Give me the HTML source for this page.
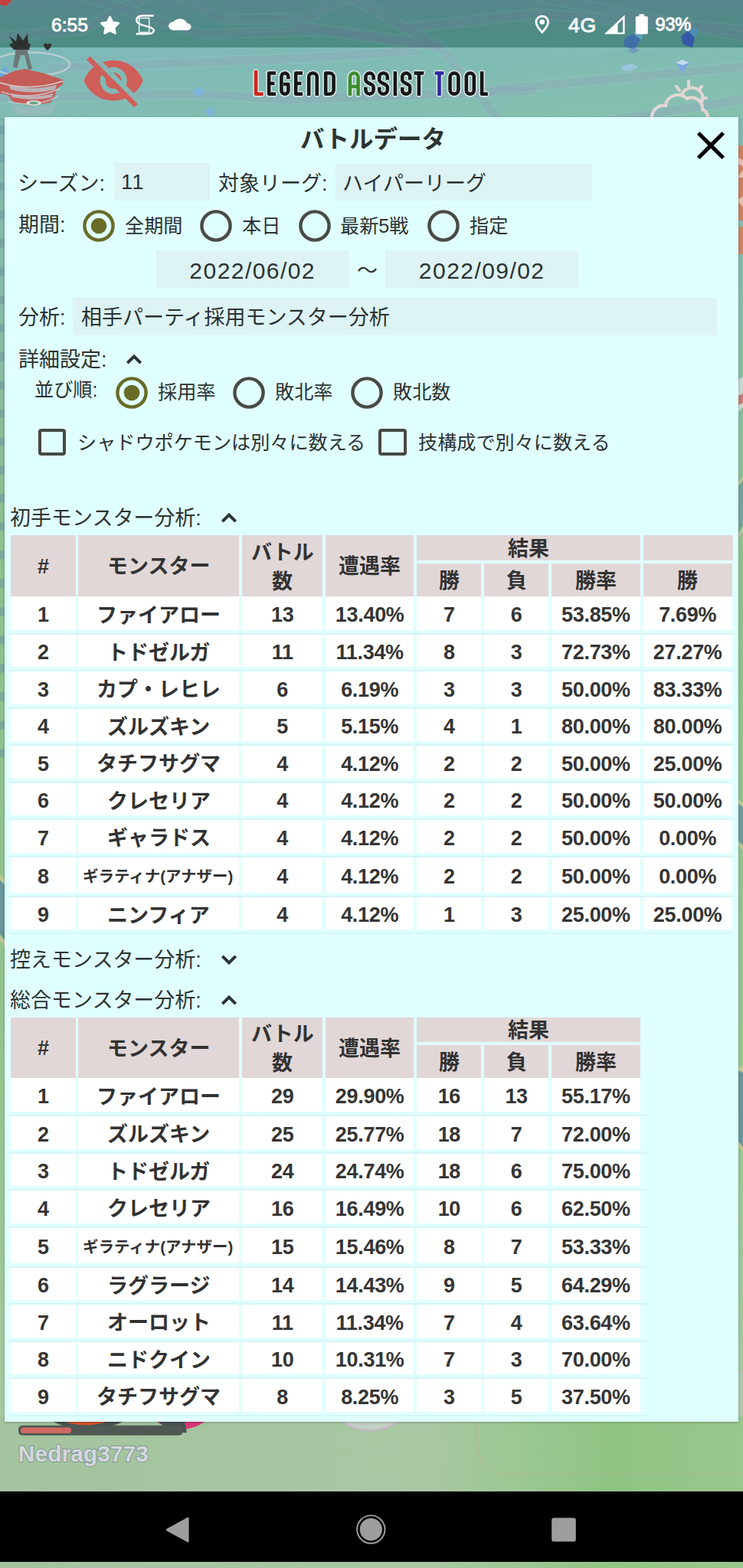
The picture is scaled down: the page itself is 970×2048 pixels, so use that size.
<!DOCTYPE html>
<html lang="ja"><head><meta charset="utf-8"><title>Legend Assist Tool - バトルデータ</title>
<style>
html,body{margin:0;padding:0}
body{width:970px;height:2048px;overflow:hidden;position:relative;font-family:"Liberation Sans",sans-serif;
 background:linear-gradient(180deg,#7fb7b0 0px,#7fb7b0 150px,#86bba4 420px,#8cc08c 700px,#93c48c 1400px,#a6c99f 1860px,#a9cba3 2048px);}
.abs,.jp,.panel,.statusbar,.mapoverlay,.nav,.inp,.th,.td,.ln,.tbl,.n{position:absolute}
.statusbar{left:0;top:0;width:970px;height:62px;background:#4f8d89}
.mapoverlay{left:0;top:62px;width:970px;height:91px;background:#80b9b3}
.panel{left:6px;top:153.3px;width:958px;height:1703.5px;background:#e0ffff;box-shadow:0 1px 3px rgba(0,0,0,.25)}
.inp{background:#ddf3f4}
.cb{box-sizing:border-box;border:4px solid #474943;border-radius:4px}
.tbl{overflow:hidden}
.th{background:#e1d7d7}
.td{background:#fff}
.ln{background:#d6f5f6}
.n{transform:translate(-50%,-50%);white-space:nowrap;color:#2b3232;line-height:1}
.bold{font-weight:bold;letter-spacing:-0.3px;color:#353535}
.reg{font-weight:normal}
.sb{position:absolute;transform:translateY(-50%);color:#fff;font-weight:normal;-webkit-text-stroke:0.9px #fff;line-height:1;white-space:nowrap}
.nm{position:absolute;font-weight:bold;font-size:30px;line-height:1.1;color:#d3d9dc;-webkit-text-stroke:2px #84969a;paint-order:stroke fill;white-space:nowrap}
.nav{left:0;top:1947.6px;width:970px;height:92.8px;background:#000}
svg{display:block;overflow:visible}
.jp text{font-family:"Liberation Sans","Noto Sans CJK JP",sans-serif}
</style></head>
<body>
<svg class="abs" style="left:0;top:0" width="970" height="154" viewBox="0 0 970 154"><defs><linearGradient id="sbg" x1="0" y1="0" x2="0" y2="1"><stop offset="0" stop-color="#57878c"/><stop offset="1" stop-color="#4b8d83"/></linearGradient><linearGradient id="lbg" x1="0" y1="0" x2="1" y2="1"><stop offset="0" stop-color="#7db8ba"/><stop offset="1" stop-color="#85c0ad"/></linearGradient><clipPath id="csb"><rect x="0" y="0" width="970" height="62"/></clipPath><clipPath id="clb"><rect x="0" y="62" width="970" height="92"/></clipPath></defs><rect x="0" y="0" width="970" height="62" fill="url(#sbg)"/><rect x="0" y="62" width="970" height="92" fill="url(#lbg)"/><g clip-path="url(#csb)" fill="none" stroke-linecap="butt"><path d="M111 -5 264 45 420 40 575 62 654 160" stroke="#5f9a93" stroke-width="15" stroke-opacity="0.45"/><path d="M231 -5 289 25 400 24 458 -5" stroke="#5f9a93" stroke-width="15" stroke-opacity="0.45"/><path d="M456 -5 575 62" stroke="#5f9a93" stroke-width="15" stroke-opacity="0.45"/><path d="M380 33 565 58" stroke="#5f9a93" stroke-width="15" stroke-opacity="0.45"/><path d="M525 37 700 18 980 40" stroke="#5f9a93" stroke-width="15" stroke-opacity="0.45"/><path d="M-5 49 107 39 190 -5" stroke="#5f9a93" stroke-width="15" stroke-opacity="0.45"/><path d="M62 89 400 76 545 66" stroke="#5f9a93" stroke-width="15" stroke-opacity="0.45"/><path d="M640 118 980 86" stroke="#5f9a93" stroke-width="15" stroke-opacity="0.45"/><path d="M700 -5 980 50" stroke="#5f9a93" stroke-width="15" stroke-opacity="0.45"/><path d="M-5 128 250 122 380 130 700 118" stroke="#5f9a93" stroke-width="15" stroke-opacity="0.45"/><path d="M780 160 980 128" stroke="#5f9a93" stroke-width="15" stroke-opacity="0.45"/><path d="M111 -5 264 45 420 40 575 62 654 160" stroke="#5b7f8e" stroke-width="11" stroke-opacity="0.55"/><path d="M231 -5 289 25 400 24 458 -5" stroke="#5b7f8e" stroke-width="11" stroke-opacity="0.55"/><path d="M456 -5 575 62" stroke="#5b7f8e" stroke-width="11" stroke-opacity="0.55"/><path d="M380 33 565 58" stroke="#5b7f8e" stroke-width="11" stroke-opacity="0.55"/><path d="M525 37 700 18 980 40" stroke="#5b7f8e" stroke-width="11" stroke-opacity="0.55"/><path d="M-5 49 107 39 190 -5" stroke="#5b7f8e" stroke-width="11" stroke-opacity="0.55"/><path d="M62 89 400 76 545 66" stroke="#5b7f8e" stroke-width="11" stroke-opacity="0.55"/><path d="M640 118 980 86" stroke="#5b7f8e" stroke-width="11" stroke-opacity="0.55"/><path d="M700 -5 980 50" stroke="#5b7f8e" stroke-width="11" stroke-opacity="0.55"/><path d="M-5 128 250 122 380 130 700 118" stroke="#5b7f8e" stroke-width="11" stroke-opacity="0.55"/><path d="M780 160 980 128" stroke="#5b7f8e" stroke-width="11" stroke-opacity="0.55"/></g><g clip-path="url(#clb)" fill="none" stroke-linecap="butt"><path d="M111 -5 264 45 420 40 575 62 654 160" stroke="#92c6c0" stroke-width="15" stroke-opacity="0.34"/><path d="M231 -5 289 25 400 24 458 -5" stroke="#92c6c0" stroke-width="15" stroke-opacity="0.34"/><path d="M456 -5 575 62" stroke="#92c6c0" stroke-width="15" stroke-opacity="0.34"/><path d="M380 33 565 58" stroke="#92c6c0" stroke-width="15" stroke-opacity="0.34"/><path d="M525 37 700 18 980 40" stroke="#92c6c0" stroke-width="15" stroke-opacity="0.34"/><path d="M-5 49 107 39 190 -5" stroke="#92c6c0" stroke-width="15" stroke-opacity="0.34"/><path d="M62 89 400 76 545 66" stroke="#92c6c0" stroke-width="15" stroke-opacity="0.34"/><path d="M640 118 980 86" stroke="#92c6c0" stroke-width="15" stroke-opacity="0.34"/><path d="M700 -5 980 50" stroke="#92c6c0" stroke-width="15" stroke-opacity="0.34"/><path d="M-5 128 250 122 380 130 700 118" stroke="#92c6c0" stroke-width="15" stroke-opacity="0.34"/><path d="M780 160 980 128" stroke="#92c6c0" stroke-width="15" stroke-opacity="0.34"/><path d="M111 -5 264 45 420 40 575 62 654 160" stroke="#8aa8b6" stroke-width="11" stroke-opacity="0.5"/><path d="M231 -5 289 25 400 24 458 -5" stroke="#8aa8b6" stroke-width="11" stroke-opacity="0.5"/><path d="M456 -5 575 62" stroke="#8aa8b6" stroke-width="11" stroke-opacity="0.5"/><path d="M380 33 565 58" stroke="#8aa8b6" stroke-width="11" stroke-opacity="0.5"/><path d="M525 37 700 18 980 40" stroke="#8aa8b6" stroke-width="11" stroke-opacity="0.5"/><path d="M-5 49 107 39 190 -5" stroke="#8aa8b6" stroke-width="11" stroke-opacity="0.5"/><path d="M62 89 400 76 545 66" stroke="#8aa8b6" stroke-width="11" stroke-opacity="0.5"/><path d="M640 118 980 86" stroke="#8aa8b6" stroke-width="11" stroke-opacity="0.5"/><path d="M700 -5 980 50" stroke="#8aa8b6" stroke-width="11" stroke-opacity="0.5"/><path d="M-5 128 250 122 380 130 700 118" stroke="#8aa8b6" stroke-width="11" stroke-opacity="0.5"/><path d="M780 160 980 128" stroke="#8aa8b6" stroke-width="11" stroke-opacity="0.5"/></g><path d="M0 0h16l-8 8-8-2z" fill="#c8403c"/><g><path d="M815 51l12-7 10 8-9 12-13-3z" fill="#3f6fa8"/><path d="M827 44l10 8 5-10-8-6z" fill="#5aa0b8"/><path d="M819 66l8 4 8-5-8-3z" fill="#6a8fc8" opacity=".7"/><path d="M889 48l9-8 9 9-3 13-12-4z" fill="#3559a8"/><path d="M898 40l9 9 5-9-7-5z" fill="#4f8fb5"/><path d="M810 86l16-3 8 5-12 5-9-1z" fill="#9cc4de" opacity=".9"/><path d="M882 82l9-4 9 4-6 9-4 4z" fill="#7fa6dc"/><path d="M882 82l9-4 9 4-9 3z" fill="#c4dcec"/><path d="M252 120l7-8 8 6-6 10z" fill="#7db4dc"/><path d="M268 146l6-7 7 6-5 8z" fill="#7db4dc"/><path d="M0 92l8-6 4 10-12 8z" fill="#6aa8d8"/></g><g fill="none" stroke="#ead9d6" stroke-width="4.2" stroke-linecap="round" stroke-linejoin="round" opacity=".92"><path d="M852 160c-4-14 6-24 17-22 1-13 18-19 28-9 10-5 21 3 20 14 8 3 9 13 3 18"/><path d="M890 124c4-12 22-13 27 0 1 5 0 8-2 11"/><path d="M899 106v6M883 113l4 5M916 113l-4 5M922 128h-5"/></g><g opacity=".88"><ellipse cx="40" cy="84" rx="51" ry="15.5" fill="none" stroke="#d2d6d6" stroke-width="2.4" opacity=".8"/><path d="M0 101l18-8 14-3 26 6 24 8v6l-8 6-2 8-6 10-26 4-22-4-8-10-10-2z" fill="#cf514b"/><path d="M12 112q30 7 62-1l-2 6q-30 7-58 0z" fill="#bfc4cc" opacity=".85"/><path d="M14 123q28 6 56-1l-2 5q-26 6-52 0z" fill="#c4c8d0" opacity=".8"/><path d="M0 108q40 12 82-2" fill="none" stroke="#dcdfe2" stroke-width="1.800" opacity=".9"/><path d="M2 120q38 12 76-4" fill="none" stroke="#d4d8dc" stroke-width="1.800" opacity=".8"/><path d="M10 132q34 10 66-6" fill="none" stroke="#ccd2d6" stroke-width="1.800" opacity=".8"/><path d="M14 136l4 12q24 6 50 0l6-14q-30 10-60 2z" fill="#a9b9bf" opacity=".55"/><ellipse cx="44" cy="134.500" rx="10" ry="3.600" fill="#e4e8e4" opacity=".9"/><ellipse cx="44" cy="134.500" rx="5.500" ry="1.800" fill="#5f9f78"/><path d="M21 63l-4 24 5 2 5-17 5 0 5 19 5-1-7-27z" fill="#6a6f6c"/><path d="M12 47l9 7 2-11 7 10 6-9 1 13 3 0-2 8-20 0-6-7 5-2z" fill="#2a2424"/><path d="M57 58q2-3 5 0 3-3 5 0 0 4-5 8-5-4-5-8z" fill="#2c2626"/></g></svg>
<svg class="abs" style="left:0;top:150px" width="970" height="1710" viewBox="0 150 970 1710"><rect x="958" y="190" width="12" height="98" fill="#c9805c"/><rect x="958" y="296" width="12" height="36" fill="#cc8560"/><path d="M962 205l8 4v8l-8-3zM962 232l8-10v10zM962 262l8-6v14z" fill="#e6cfc4" opacity=".8"/><path d="M958 500l12-8v40l-12 12z" fill="#dfe3e6" opacity=".7"/><path d="M958 520l12-6v12l-12 6z" fill="#c8504a" opacity=".7"/><path d="M958 640l12-14v60l-12 18z" fill="#6f9aa0" opacity=".8"/><path d="M958 636l12-14v6l-12 14zM958 706l12-18v6l-12 18z" fill="#c9c796" opacity=".8"/><path d="M958 1045l12 8v52l-12-10z" fill="#6a939c" opacity=".85"/><path d="M958 1040l12 8v6l-12-8zM958 1094l12 10v6l-12-10z" fill="#c9c796" opacity=".8"/><path d="M958 1395l12 6v98l-12-14z" fill="#64909a" opacity=".9"/><path d="M958 1388l12 6v7l-12-6zM958 1484l12 14v7l-12-14z" fill="#c9c796" opacity=".85"/><path d="M0 165l12-3v11l-12 3zM0 202l12-3v11l-12 3zM0 239l12-3v11l-12 3zM0 276l12-3v11l-12 3zM0 313l12-3v11l-12 3zM0 350l12-3v11l-12 3zM0 387l12-3v11l-12 3zM0 424l12-3v11l-12 3zM0 461l12-3v11l-12 3zM0 498l12-3v11l-12 3zM0 535l12-3v11l-12 3zM0 572l12-3v11l-12 3zM0 609l12-3v11l-12 3zM0 646l12-3v11l-12 3zM0 683l12-3v11l-12 3zM0 720l12-3v11l-12 3zM0 757l12-3v11l-12 3zM0 794l12-3v11l-12 3zM0 831l12-3v11l-12 3zM0 868l12-3v11l-12 3zM0 905l12-3v11l-12 3zM0 942l12-3v11l-12 3zM0 979l12-3v11l-12 3z" fill="#6f9aa4" opacity=".6"/><path d="M0 1150l12 12v72l-12-14z" fill="#64909a" opacity=".9"/><path d="M0 1142l12 12v7l-12-12zM0 1222l12 14v7l-12-14z" fill="#c9c796" opacity=".85"/><rect x="958" y="1790" width="12" height="70" fill="#b9c4b4" opacity=".6"/></svg>
<span class="sb" style="left:67px;top:33.2px;font-size:24.6px">6:55</span><span class="sb" style="left:742px;top:33.2px;font-size:26.6px;letter-spacing:0.6px">4G</span><span class="sb" style="left:855.5px;top:33.2px;font-size:23.6px;letter-spacing:-0.2px">93%</span><svg class="abs" style="left:120px;top:10px" width="800" height="44" viewBox="120 10 800 44" fill="#fff"><path d="M143.5 22.0L147.0 29.1L154.8 30.2L149.1 35.7L150.5 43.5L143.5 39.8L136.5 43.5L137.9 35.7L132.2 30.2L140.0 29.1z" stroke="#fff" stroke-width="2.6" stroke-linejoin="round"/><g fill="none" stroke="#fff"><rect x="181.6" y="23.6" width="13.2" height="18.6" stroke-width="1.3"/><path d="M200.6 20.6H187Q178.2 20.6 178.2 26.6 178.2 31.4 189 33.6 200.8 36 200.8 40 200.8 44.2 192 44.2H177.6" stroke-width="2.5"/></g><path d="M243.900 31.200c-.840-4.220-4.550-7.400-9-7.400-3.540 0-6.610 2-8.140 4.940-3.680.390-6.540 3.510-6.540 7.290 0 4.050 3.290 7.340 7.340 7.340h15.910c3.380 0 6.120-2.740 6.120-6.120 0-3.230-2.510-5.850-5.690-6.050z" transform="translate(0,6.2) scale(1,.77)"/><path d="M707.8 19.8c-5.1 0-9.2 4-9.2 9 0 6.7 9.2 15.3 9.2 15.3s9.2-8.6 9.2-15.3c0-5-4.1-9-9.2-9zm0 2.8c3.5 0 6.4 2.8 6.4 6.2 0 3.9-4.2 8.9-6.4 11.3-2.2-2.4-6.4-7.400-6.4-11.3 0-3.4 2.9-6.2 6.4-6.2zm0 2.900a3.3 3.3 0 100 6.600 3.300 3.300 0 000-6.600z" fill-rule="evenodd"/><path d="M815.600 19.400v25.200h-26.700zM806.500 31.500v11h6.700v-17.500z" fill-rule="evenodd"/><path d="M834.500 18.600h6.600v2.700h3.200q1.500 0 1.500 1.500v20.400q0 1.400-1.500 1.400h-13q-1.500 0-1.500-1.400v-20.400q0-1.500 1.500-1.500h3.200z"/></svg>
<svg class="abs" style="left:106.3px;top:62.6px" width="84.3" height="84.3" viewBox="0 0 24 24" fill="#cf5f58"><path d="M12 7c2.76 0 5 2.24 5 5 0 .65-.13 1.26-.36 1.83l2.92 2.92c1.510-1.260 2.700-2.890 3.430-4.750-1.730-4.390-6-7.500-11-7.500-1.400 0-2.740.250-3.980.700l2.160 2.160C10.740 7.130 11.350 7 12 7zM2 4.270l2.280 2.280.460.460C3.080 8.300 1.780 10.020 1 12c1.730 4.390 6 7.500 11 7.500 1.550 0 3.030-.300 4.380-.840l.420.420L19.730 22 21 20.730 3.270 3 2 4.270zM7.530 9.800l1.550 1.550c-.050.210-.080.430-.080.650 0 1.660 1.340 3 3 3 .220 0 .440-.030.650-.080l1.550 1.550c-.670.330-1.410.530-2.200.530-2.760 0-5-2.240-5-5 0-.790.200-1.530.530-2.200zm4.310-.780l3.150 3.150.020-.160c0-1.660-1.340-3-3-3l-.170.010z"/></svg>
<svg class="abs" role="img" aria-label="LEGEND ASSIST TOOL" style="left:320px;top:80px" width="330" height="56" viewBox="320 80 330 56" fill="none" stroke-linecap="square" stroke-linejoin="round"><g stroke="#e8eeee" stroke-opacity=".8" stroke-width="7.9" stroke-linecap="round"><path d="M334.1 94.2V122.8H341.4"/><path d="M357.8 95.5H351.1V122.8H357.8M351.1 109.1H356.2"/><path d="M376.4 101.0V100.0A4.5 4.5 0 0 0 367.4 100.0V118.2A4.5 4.5 0 0 0 376.4 118.2V110.1H372.4"/><path d="M392.8 95.5H386.2V122.8H392.8M386.2 109.1H391.2"/><path d="M403.2 122.8V100.7A5.2 5.2 0 0 1 413.8 100.7V122.8"/><path d="M425.2 95.5H430.4A5.2 5.2 0 0 1 435.6 100.6V117.6A5.2 5.2 0 0 1 430.4 122.8H425.2Z"/><path d="M456.9 122.8V100.8A5.3 5.3 0 0 1 467.6 100.8V122.8M456.9 113.1H467.6"/><path d="M487.6 102.1V100.6A5.1 5.1 0 0 0 477.4 100.6V104.5C477.4 109.1 487.6 109.1 487.6 113.7V117.6A5.1 5.1 0 0 1 477.4 117.6V116.1"/><path d="M505.8 102.2V100.7A5.2 5.2 0 0 0 495.2 100.7V104.4C495.2 109.1 505.8 109.1 505.8 113.8V117.5A5.2 5.2 0 0 1 495.2 117.5V116.0"/><path d="M515.9 95.5V122.8"/><path d="M535.2 102.0V100.5A5.0 5.0 0 0 0 525.2 100.5V104.6C525.2 109.1 535.2 109.1 535.2 113.6V117.8A5.0 5.0 0 0 1 525.2 117.8V116.2"/><path d="M542.8 95.5H551.0M546.9 95.5V122.8"/><path d="M569.9 95.5H577.2M573.5 95.5V122.8"/><path d="M587.5 100.9A5.4 5.4 0 0 1 598.4 100.9V117.3A5.4 5.4 0 0 1 587.5 117.3Z"/><path d="M608.8 100.5A5.0 5.0 0 0 1 618.8 100.5V117.8A5.0 5.0 0 0 1 608.8 117.8Z"/><path d="M629.1 95.5V122.8H634.6"/></g><g stroke-width="4.5"><path d="M334.1 94.2V122.8H341.4" stroke="#c8281e"/><path d="M357.8 95.5H351.1V122.8H357.8M351.1 109.1H356.2" stroke="#161616"/><path d="M376.4 101.0V100.0A4.5 4.5 0 0 0 367.4 100.0V118.2A4.5 4.5 0 0 0 376.4 118.2V110.1H372.4" stroke="#161616"/><path d="M392.8 95.5H386.2V122.8H392.8M386.2 109.1H391.2" stroke="#161616"/><path d="M403.2 122.8V100.7A5.2 5.2 0 0 1 413.8 100.7V122.8" stroke="#161616"/><path d="M425.2 95.5H430.4A5.2 5.2 0 0 1 435.6 100.6V117.6A5.2 5.2 0 0 1 430.4 122.8H425.2Z" stroke="#161616"/><path d="M456.9 122.8V100.8A5.3 5.3 0 0 1 467.6 100.8V122.8M456.9 113.1H467.6" stroke="#3c8c2c"/><path d="M487.6 102.1V100.6A5.1 5.1 0 0 0 477.4 100.6V104.5C477.4 109.1 487.6 109.1 487.6 113.7V117.6A5.1 5.1 0 0 1 477.4 117.6V116.1" stroke="#161616"/><path d="M505.8 102.2V100.7A5.2 5.2 0 0 0 495.2 100.7V104.4C495.2 109.1 505.8 109.1 505.8 113.8V117.5A5.2 5.2 0 0 1 495.2 117.5V116.0" stroke="#161616"/><path d="M515.9 95.5V122.8" stroke="#161616"/><path d="M535.2 102.0V100.5A5.0 5.0 0 0 0 525.2 100.5V104.6C525.2 109.1 535.2 109.1 535.2 113.6V117.8A5.0 5.0 0 0 1 525.2 117.8V116.2" stroke="#161616"/><path d="M542.8 95.5H551.0M546.9 95.5V122.8" stroke="#161616"/><path d="M569.9 95.5H577.2M573.5 95.5V122.8" stroke="#2c2a9c"/><path d="M587.5 100.9A5.4 5.4 0 0 1 598.4 100.9V117.3A5.4 5.4 0 0 1 587.5 117.3Z" stroke="#161616"/><path d="M608.8 100.5A5.0 5.0 0 0 1 618.8 100.5V117.8A5.0 5.0 0 0 1 608.8 117.8Z" stroke="#161616"/><path d="M629.1 95.5V122.8H634.6" stroke="#161616"/></g></svg>
<svg class="abs" style="left:0;top:1850px" width="970" height="198" viewBox="0 1850 970 198"><defs><linearGradient id="bbg" x1="0" y1="0" x2="1" y2="0"><stop offset="0" stop-color="#a3c49e"/><stop offset=".58" stop-color="#a8c8a2"/><stop offset=".82" stop-color="#90c584"/><stop offset="1" stop-color="#99c78d"/></linearGradient></defs><rect x="0" y="1850" width="970" height="198" fill="url(#bbg)"/><ellipse cx="483.5" cy="1832" rx="50" ry="36.500" fill="#c6d0c8" stroke="#c3b6c4" stroke-width="2.500" opacity=".9"/><ellipse cx="115" cy="1840" rx="58" ry="27" fill="#4a5254"/><ellipse cx="112" cy="1840" rx="44" ry="21.500" fill="#d9532c"/><circle cx="236" cy="1814" r="53" fill="#d83a78"/><path d="M202 1850q12 20 42 21.500l-5-24z" fill="#4a5254"/><rect x="622" y="1790" width="420" height="135" rx="40" fill="none" stroke="#c4a78e" stroke-width="1.6" opacity=".4"/><rect x="24" y="1861.800" width="214.800" height="13" rx="5" fill="#4f5853"/><rect x="27" y="1864.500" width="66" height="7.600" rx="3.500" fill="#cf6a62"/></svg><span class="nm" style="left:23.800px;top:1881.600px">Nedrag3773</span>
<div class="panel"></div>
<svg class="jp" role="img" aria-label="バトルデータ" style="left:391.66px;top:164.65px;" width="189.00" height="31.50" viewBox="0 -880 6000 1000" fill="#2b3232"><text x="0" y="0" font-size="1000" font-weight="bold">バトルデータ</text></svg>
<svg class="abs" style="left:897px;top:158.6px" width="62" height="62" viewBox="0 0 24 24"><path d="M19 6.41 17.59 5 12 10.59 6.41 5 5 6.41 10.59 12 5 17.59 6.41 19 12 13.41 17.59 19 19 17.59 13.41 12z" fill="#000"/></svg>
<svg class="jp" role="img" aria-label="シーズン:" style="left:23.04px;top:224.50px;" width="115.51" height="27.00" viewBox="0 -880 4278 1000" fill="#2b3232"><text x="0" y="0" font-size="1000">シーズン:</text></svg>
<div class="inp" style="left:148.60px;top:213.00px;width:125.00px;height:49.20px;"></div>
<span class="n reg" style="left:173.30px;top:238.40px;font-size:27.50px;letter-spacing:1px">11</span>
<svg class="jp" role="img" aria-label="対象リーグ:" style="left:285.14px;top:224.50px;" width="142.51" height="27.00" viewBox="0 -880 5278 1000" fill="#2b3232"><text x="0" y="0" font-size="1000">対象リーグ:</text></svg>
<div class="inp" style="left:437.50px;top:213.60px;width:335.00px;height:48.60px;"></div>
<svg class="jp" role="img" aria-label="ハイパーリーグ" style="left:447.48px;top:224.50px;" width="189.00" height="27.00" viewBox="0 -880 7000 1000" fill="#2b3232"><text x="0" y="0" font-size="1000">ハイパーリーグ</text></svg>
<svg class="jp" role="img" aria-label="期間:" style="left:23.87px;top:278.50px;" width="61.51" height="27.00" viewBox="0 -880 2278 1000" fill="#2b3232"><text x="0" y="0" font-size="1000">期間:</text></svg>
<svg class="abs" style="left:106.40px;top:271.90px" width="46" height="46" viewBox="-23 -23 46 46"><circle r="18.6" fill="none" stroke="#696c27" stroke-width="4.4"/><circle r="10.3" fill="#696c27"/></svg>
<svg class="jp" role="img" aria-label="全期間" style="left:162.77px;top:281.93px;" width="75.45" height="25.15" viewBox="0 -880 3000 1000" fill="#2b3232"><text x="0" y="0" font-size="1000">全期間</text></svg>
<svg class="abs" style="left:259.10px;top:271.90px" width="46" height="46" viewBox="-23 -23 46 46"><circle r="18.6" fill="none" stroke="#484b44" stroke-width="4.4"/></svg>
<svg class="jp" role="img" aria-label="本日" style="left:316.22px;top:281.93px;" width="50.30" height="25.15" viewBox="0 -880 2000 1000" fill="#2b3232"><text x="0" y="0" font-size="1000">本日</text></svg>
<svg class="abs" style="left:387.50px;top:271.90px" width="46" height="46" viewBox="-23 -23 46 46"><circle r="18.6" fill="none" stroke="#484b44" stroke-width="4.4"/></svg>
<svg class="jp" role="img" aria-label="最新5戦" style="left:443.77px;top:281.93px;" width="89.41" height="25.15" viewBox="0 -880 3555 1000" fill="#2b3232"><text x="0" y="0" font-size="1000">最新5戦</text></svg>
<svg class="abs" style="left:556.00px;top:271.90px" width="46" height="46" viewBox="-23 -23 46 46"><circle r="18.6" fill="none" stroke="#484b44" stroke-width="4.4"/></svg>
<svg class="jp" role="img" aria-label="指定" style="left:612.72px;top:281.93px;" width="50.30" height="25.15" viewBox="0 -880 2000 1000" fill="#2b3232"><text x="0" y="0" font-size="1000">指定</text></svg>
<div class="inp" style="left:204.00px;top:327.00px;width:252.00px;height:49.30px;"></div>
<span class="n reg" style="left:329.70px;top:353.50px;font-size:30.00px;letter-spacing:1.45px">2022/06/02</span>
<svg class="jp" role="img" aria-label="～" style="left:466.00px;top:338.50px;" width="27.00" height="27.00" viewBox="0 -880 1000 1000" fill="#2b3232"><text x="0" y="0" font-size="1000">～</text></svg>
<div class="inp" style="left:503.40px;top:327.00px;width:251.60px;height:49.30px;"></div>
<span class="n reg" style="left:629.20px;top:353.50px;font-size:30.00px;letter-spacing:1.45px">2022/09/02</span>
<svg class="jp" role="img" aria-label="分析:" style="left:24.38px;top:399.50px;" width="61.51" height="27.00" viewBox="0 -880 2278 1000" fill="#2b3232"><text x="0" y="0" font-size="1000">分析:</text></svg>
<div class="inp" style="left:95.00px;top:388.60px;width:841.00px;height:49.40px;"></div>
<svg class="jp" role="img" aria-label="相手パーティ採用モンスター分析" style="left:106.22px;top:399.50px;" width="405.00" height="27.00" viewBox="0 -880 15000 1000" fill="#2b3232"><text x="0" y="0" font-size="1000">相手パーティ採用モンスター分析</text></svg>
<svg class="jp" role="img" aria-label="詳細設定:" style="left:23.97px;top:455.00px;" width="115.51" height="27.00" viewBox="0 -880 4278 1000" fill="#2b3232"><text x="0" y="0" font-size="1000">詳細設定:</text></svg>
<svg class="abs" style="left:158.50px;top:452.50px" width="32" height="32" viewBox="-16 -16 32 32"><polyline points="-8.7,5.1 0,-3.5 8.7,5.1" fill="none" stroke="#2b3232" stroke-width="3.9"/></svg>
<svg class="jp" role="img" aria-label="並び順:" style="left:44.64px;top:496.23px;" width="82.44" height="25.15" viewBox="0 -880 3278 1000" fill="#2b3232"><text x="0" y="0" font-size="1000">並び順:</text></svg>
<svg class="abs" style="left:148.50px;top:489.90px" width="46" height="46" viewBox="-23 -23 46 46"><circle r="18.6" fill="none" stroke="#696c27" stroke-width="4.4"/><circle r="10.3" fill="#696c27"/></svg>
<svg class="jp" role="img" aria-label="採用率" style="left:206.30px;top:499.43px;" width="75.45" height="25.15" viewBox="0 -880 3000 1000" fill="#2b3232"><text x="0" y="0" font-size="1000">採用率</text></svg>
<svg class="abs" style="left:302.00px;top:489.90px" width="46" height="46" viewBox="-23 -23 46 46"><circle r="18.6" fill="none" stroke="#484b44" stroke-width="4.4"/></svg>
<svg class="jp" role="img" aria-label="敗北率" style="left:359.17px;top:499.43px;" width="75.45" height="25.15" viewBox="0 -880 3000 1000" fill="#2b3232"><text x="0" y="0" font-size="1000">敗北率</text></svg>
<svg class="abs" style="left:455.60px;top:489.90px" width="46" height="46" viewBox="-23 -23 46 46"><circle r="18.6" fill="none" stroke="#484b44" stroke-width="4.4"/></svg>
<svg class="jp" role="img" aria-label="敗北数" style="left:512.77px;top:499.43px;" width="75.45" height="25.15" viewBox="0 -880 3000 1000" fill="#2b3232"><text x="0" y="0" font-size="1000">敗北数</text></svg>
<div class="abs cb" style="left:50.00px;top:560.30px;width:36.00px;height:34.30px"></div>
<svg class="jp" role="img" aria-label="シャドウポケモンは別々に数える" style="left:101.33px;top:564.92px;" width="377.25" height="25.15" viewBox="0 -880 15000 1000" fill="#2b3232"><text x="0" y="0" font-size="1000">シャドウポケモンは別々に数える</text></svg>
<div class="abs cb" style="left:493.70px;top:560.30px;width:37.20px;height:34.30px"></div>
<svg class="jp" role="img" aria-label="技構成で別々に数える" style="left:546.27px;top:564.92px;" width="251.50" height="25.15" viewBox="0 -880 10000 1000" fill="#2b3232"><text x="0" y="0" font-size="1000">技構成で別々に数える</text></svg>
<svg class="jp" role="img" aria-label="初手モンスター分析:" style="left:12.60px;top:661.50px;" width="250.51" height="27.00" viewBox="0 -880 9278 1000" fill="#2b3232"><text x="0" y="0" font-size="1000">初手モンスター分析:</text></svg>
<svg class="abs" style="left:282.50px;top:659.50px" width="32" height="32" viewBox="-16 -16 32 32"><polyline points="-8.7,5.1 0,-3.5 8.7,5.1" fill="none" stroke="#2b3232" stroke-width="3.9"/></svg>
<div class="tbl" style="left:0;top:699.00px;width:957.30px;height:560.00px"><div class="th" style="left:14.20px;top:0.00px;width:84.40px;height:79.70px;"></div><span class="n bold" style="left:56.40px;top:40.80px;font-size:27.00px;">#</span><div class="th" style="left:102.20px;top:0.00px;width:210.20px;height:79.70px;"></div><svg class="jp" role="img" aria-label="モンスター" style="left:139.80px;top:26.10px;" width="135.00" height="27.00" viewBox="0 -880 5000 1000" fill="#323232"><text x="0" y="0" font-size="1000" font-weight="bold">モンスター</text></svg><div class="th" style="left:316.40px;top:0.00px;width:104.50px;height:79.70px;"></div><svg class="jp" role="img" aria-label="バトル" style="left:328.15px;top:7.50px;" width="81.00" height="27.00" viewBox="0 -880 3000 1000" fill="#323232"><text x="0" y="0" font-size="1000" font-weight="bold">バトル</text></svg><svg class="jp" role="img" aria-label="数" style="left:355.15px;top:45.90px;" width="27.00" height="27.00" viewBox="0 -880 1000 1000" fill="#323232"><text x="0" y="0" font-size="1000" font-weight="bold">数</text></svg><div class="th" style="left:425.00px;top:0.00px;width:115.40px;height:79.70px;"></div><svg class="jp" role="img" aria-label="遭遇率" style="left:442.20px;top:26.10px;" width="81.00" height="27.00" viewBox="0 -880 3000 1000" fill="#323232"><text x="0" y="0" font-size="1000" font-weight="bold">遭遇率</text></svg><div class="th" style="left:544.30px;top:0.00px;width:291.30px;height:32.70px;"></div><svg class="jp" role="img" aria-label="結果" style="left:662.95px;top:2.80px;" width="54.00" height="27.00" viewBox="0 -880 2000 1000" fill="#323232"><text x="0" y="0" font-size="1000" font-weight="bold">結果</text></svg><div class="th" style="left:544.30px;top:36.70px;width:84.10px;height:43.00px;"></div><svg class="jp" role="img" aria-label="勝" style="left:572.85px;top:44.70px;" width="27.00" height="27.00" viewBox="0 -880 1000 1000" fill="#323232"><text x="0" y="0" font-size="1000" font-weight="bold">勝</text></svg><div class="th" style="left:632.20px;top:36.70px;width:83.80px;height:43.00px;"></div><svg class="jp" role="img" aria-label="負" style="left:660.60px;top:44.70px;" width="27.00" height="27.00" viewBox="0 -880 1000 1000" fill="#323232"><text x="0" y="0" font-size="1000" font-weight="bold">負</text></svg><div class="th" style="left:720.20px;top:36.70px;width:115.40px;height:43.00px;"></div><svg class="jp" role="img" aria-label="勝率" style="left:750.90px;top:44.70px;" width="54.00" height="27.00" viewBox="0 -880 2000 1000" fill="#323232"><text x="0" y="0" font-size="1000" font-weight="bold">勝率</text></svg><div class="th" style="left:839.80px;top:0.00px;width:155.80px;height:32.70px;"></div><div class="th" style="left:839.80px;top:36.70px;width:115.80px;height:43.00px;"></div><svg class="jp" role="img" aria-label="勝" style="left:884.20px;top:44.70px;" width="27.00" height="27.00" viewBox="0 -880 1000 1000" fill="#323232"><text x="0" y="0" font-size="1000" font-weight="bold">勝</text></svg><div class="td" style="left:14.20px;top:79.70px;width:84.40px;height:44.30px;"></div><div class="td" style="left:102.20px;top:79.70px;width:210.20px;height:44.30px;"></div><div class="td" style="left:316.40px;top:79.70px;width:104.50px;height:44.30px;"></div><div class="td" style="left:425.00px;top:79.70px;width:115.40px;height:44.30px;"></div><div class="td" style="left:544.30px;top:79.70px;width:84.10px;height:44.30px;"></div><div class="td" style="left:632.20px;top:79.70px;width:83.80px;height:44.30px;"></div><div class="td" style="left:720.20px;top:79.70px;width:115.40px;height:44.30px;"></div><div class="td" style="left:839.80px;top:79.70px;width:115.80px;height:44.30px;"></div><div class="ln" style="left:11.00px;top:127.50px;width:946.30px;height:2.00px;"></div><span class="n bold" style="left:56.40px;top:103.75px;font-size:27.00px;">1</span><svg class="jp" role="img" aria-label="ファイアロー" style="left:126.30px;top:89.65px;" width="162.00" height="27.00" viewBox="0 -880 6000 1000" fill="#323232"><text x="0" y="0" font-size="1000" font-weight="bold">ファイアロー</text></svg><span class="n bold" style="left:368.65px;top:103.75px;font-size:27.00px;">13</span><span class="n bold" style="left:482.70px;top:103.75px;font-size:27.00px;">13.40%</span><span class="n bold" style="left:586.35px;top:103.75px;font-size:27.00px;">7</span><span class="n bold" style="left:674.10px;top:103.75px;font-size:27.00px;">6</span><span class="n bold" style="left:777.90px;top:103.75px;font-size:27.00px;">53.85%</span><span class="n bold" style="left:897.70px;top:103.75px;font-size:27.00px;">7.69%</span><div class="td" style="left:14.20px;top:129.70px;width:84.40px;height:42.80px;"></div><div class="td" style="left:102.20px;top:129.70px;width:210.20px;height:42.80px;"></div><div class="td" style="left:316.40px;top:129.70px;width:104.50px;height:42.80px;"></div><div class="td" style="left:425.00px;top:129.70px;width:115.40px;height:42.80px;"></div><div class="td" style="left:544.30px;top:129.70px;width:84.10px;height:42.80px;"></div><div class="td" style="left:632.20px;top:129.70px;width:83.80px;height:42.80px;"></div><div class="td" style="left:720.20px;top:129.70px;width:115.40px;height:42.80px;"></div><div class="td" style="left:839.80px;top:129.70px;width:115.80px;height:42.80px;"></div><div class="ln" style="left:11.00px;top:176.00px;width:946.30px;height:2.00px;"></div><span class="n bold" style="left:56.40px;top:153.00px;font-size:27.00px;">2</span><svg class="jp" role="img" aria-label="トドゼルガ" style="left:139.80px;top:138.90px;" width="135.00" height="27.00" viewBox="0 -880 5000 1000" fill="#323232"><text x="0" y="0" font-size="1000" font-weight="bold">トドゼルガ</text></svg><span class="n bold" style="left:368.65px;top:153.00px;font-size:27.00px;">11</span><span class="n bold" style="left:482.70px;top:153.00px;font-size:27.00px;">11.34%</span><span class="n bold" style="left:586.35px;top:153.00px;font-size:27.00px;">8</span><span class="n bold" style="left:674.10px;top:153.00px;font-size:27.00px;">3</span><span class="n bold" style="left:777.90px;top:153.00px;font-size:27.00px;">72.73%</span><span class="n bold" style="left:897.70px;top:153.00px;font-size:27.00px;">27.27%</span><div class="td" style="left:14.20px;top:178.20px;width:84.40px;height:42.80px;"></div><div class="td" style="left:102.20px;top:178.20px;width:210.20px;height:42.80px;"></div><div class="td" style="left:316.40px;top:178.20px;width:104.50px;height:42.80px;"></div><div class="td" style="left:425.00px;top:178.20px;width:115.40px;height:42.80px;"></div><div class="td" style="left:544.30px;top:178.20px;width:84.10px;height:42.80px;"></div><div class="td" style="left:632.20px;top:178.20px;width:83.80px;height:42.80px;"></div><div class="td" style="left:720.20px;top:178.20px;width:115.40px;height:42.80px;"></div><div class="td" style="left:839.80px;top:178.20px;width:115.80px;height:42.80px;"></div><div class="ln" style="left:11.00px;top:224.50px;width:946.30px;height:2.00px;"></div><span class="n bold" style="left:56.40px;top:201.50px;font-size:27.00px;">3</span><svg class="jp" role="img" aria-label="カプ・レヒレ" style="left:126.30px;top:187.40px;" width="162.00" height="27.00" viewBox="0 -880 6000 1000" fill="#323232"><text x="0" y="0" font-size="1000" font-weight="bold">カプ・レヒレ</text></svg><span class="n bold" style="left:368.65px;top:201.50px;font-size:27.00px;">6</span><span class="n bold" style="left:482.70px;top:201.50px;font-size:27.00px;">6.19%</span><span class="n bold" style="left:586.35px;top:201.50px;font-size:27.00px;">3</span><span class="n bold" style="left:674.10px;top:201.50px;font-size:27.00px;">3</span><span class="n bold" style="left:777.90px;top:201.50px;font-size:27.00px;">50.00%</span><span class="n bold" style="left:897.70px;top:201.50px;font-size:27.00px;">83.33%</span><div class="td" style="left:14.20px;top:226.70px;width:84.40px;height:42.80px;"></div><div class="td" style="left:102.20px;top:226.70px;width:210.20px;height:42.80px;"></div><div class="td" style="left:316.40px;top:226.70px;width:104.50px;height:42.80px;"></div><div class="td" style="left:425.00px;top:226.70px;width:115.40px;height:42.80px;"></div><div class="td" style="left:544.30px;top:226.70px;width:84.10px;height:42.80px;"></div><div class="td" style="left:632.20px;top:226.70px;width:83.80px;height:42.80px;"></div><div class="td" style="left:720.20px;top:226.70px;width:115.40px;height:42.80px;"></div><div class="td" style="left:839.80px;top:226.70px;width:115.80px;height:42.80px;"></div><div class="ln" style="left:11.00px;top:273.00px;width:946.30px;height:2.00px;"></div><span class="n bold" style="left:56.40px;top:250.00px;font-size:27.00px;">4</span><svg class="jp" role="img" aria-label="ズルズキン" style="left:139.80px;top:235.90px;" width="135.00" height="27.00" viewBox="0 -880 5000 1000" fill="#323232"><text x="0" y="0" font-size="1000" font-weight="bold">ズルズキン</text></svg><span class="n bold" style="left:368.65px;top:250.00px;font-size:27.00px;">5</span><span class="n bold" style="left:482.70px;top:250.00px;font-size:27.00px;">5.15%</span><span class="n bold" style="left:586.35px;top:250.00px;font-size:27.00px;">4</span><span class="n bold" style="left:674.10px;top:250.00px;font-size:27.00px;">1</span><span class="n bold" style="left:777.90px;top:250.00px;font-size:27.00px;">80.00%</span><span class="n bold" style="left:897.70px;top:250.00px;font-size:27.00px;">80.00%</span><div class="td" style="left:14.20px;top:275.20px;width:84.40px;height:42.80px;"></div><div class="td" style="left:102.20px;top:275.20px;width:210.20px;height:42.80px;"></div><div class="td" style="left:316.40px;top:275.20px;width:104.50px;height:42.80px;"></div><div class="td" style="left:425.00px;top:275.20px;width:115.40px;height:42.80px;"></div><div class="td" style="left:544.30px;top:275.20px;width:84.10px;height:42.80px;"></div><div class="td" style="left:632.20px;top:275.20px;width:83.80px;height:42.80px;"></div><div class="td" style="left:720.20px;top:275.20px;width:115.40px;height:42.80px;"></div><div class="td" style="left:839.80px;top:275.20px;width:115.80px;height:42.80px;"></div><div class="ln" style="left:11.00px;top:321.50px;width:946.30px;height:2.00px;"></div><span class="n bold" style="left:56.40px;top:298.50px;font-size:27.00px;">5</span><svg class="jp" role="img" aria-label="タチフサグマ" style="left:126.30px;top:284.40px;" width="162.00" height="27.00" viewBox="0 -880 6000 1000" fill="#323232"><text x="0" y="0" font-size="1000" font-weight="bold">タチフサグマ</text></svg><span class="n bold" style="left:368.65px;top:298.50px;font-size:27.00px;">4</span><span class="n bold" style="left:482.70px;top:298.50px;font-size:27.00px;">4.12%</span><span class="n bold" style="left:586.35px;top:298.50px;font-size:27.00px;">2</span><span class="n bold" style="left:674.10px;top:298.50px;font-size:27.00px;">2</span><span class="n bold" style="left:777.90px;top:298.50px;font-size:27.00px;">50.00%</span><span class="n bold" style="left:897.70px;top:298.50px;font-size:27.00px;">25.00%</span><div class="td" style="left:14.20px;top:323.70px;width:84.40px;height:42.80px;"></div><div class="td" style="left:102.20px;top:323.70px;width:210.20px;height:42.80px;"></div><div class="td" style="left:316.40px;top:323.70px;width:104.50px;height:42.80px;"></div><div class="td" style="left:425.00px;top:323.70px;width:115.40px;height:42.80px;"></div><div class="td" style="left:544.30px;top:323.70px;width:84.10px;height:42.80px;"></div><div class="td" style="left:632.20px;top:323.70px;width:83.80px;height:42.80px;"></div><div class="td" style="left:720.20px;top:323.70px;width:115.40px;height:42.80px;"></div><div class="td" style="left:839.80px;top:323.70px;width:115.80px;height:42.80px;"></div><div class="ln" style="left:11.00px;top:370.00px;width:946.30px;height:2.00px;"></div><span class="n bold" style="left:56.40px;top:347.00px;font-size:27.00px;">6</span><svg class="jp" role="img" aria-label="クレセリア" style="left:139.80px;top:332.90px;" width="135.00" height="27.00" viewBox="0 -880 5000 1000" fill="#323232"><text x="0" y="0" font-size="1000" font-weight="bold">クレセリア</text></svg><span class="n bold" style="left:368.65px;top:347.00px;font-size:27.00px;">4</span><span class="n bold" style="left:482.70px;top:347.00px;font-size:27.00px;">4.12%</span><span class="n bold" style="left:586.35px;top:347.00px;font-size:27.00px;">2</span><span class="n bold" style="left:674.10px;top:347.00px;font-size:27.00px;">2</span><span class="n bold" style="left:777.90px;top:347.00px;font-size:27.00px;">50.00%</span><span class="n bold" style="left:897.70px;top:347.00px;font-size:27.00px;">50.00%</span><div class="td" style="left:14.20px;top:372.20px;width:84.40px;height:42.80px;"></div><div class="td" style="left:102.20px;top:372.20px;width:210.20px;height:42.80px;"></div><div class="td" style="left:316.40px;top:372.20px;width:104.50px;height:42.80px;"></div><div class="td" style="left:425.00px;top:372.20px;width:115.40px;height:42.80px;"></div><div class="td" style="left:544.30px;top:372.20px;width:84.10px;height:42.80px;"></div><div class="td" style="left:632.20px;top:372.20px;width:83.80px;height:42.80px;"></div><div class="td" style="left:720.20px;top:372.20px;width:115.40px;height:42.80px;"></div><div class="td" style="left:839.80px;top:372.20px;width:115.80px;height:42.80px;"></div><div class="ln" style="left:11.00px;top:418.50px;width:946.30px;height:2.00px;"></div><span class="n bold" style="left:56.40px;top:395.50px;font-size:27.00px;">7</span><svg class="jp" role="img" aria-label="ギャラドス" style="left:139.80px;top:381.40px;" width="135.00" height="27.00" viewBox="0 -880 5000 1000" fill="#323232"><text x="0" y="0" font-size="1000" font-weight="bold">ギャラドス</text></svg><span class="n bold" style="left:368.65px;top:395.50px;font-size:27.00px;">4</span><span class="n bold" style="left:482.70px;top:395.50px;font-size:27.00px;">4.12%</span><span class="n bold" style="left:586.35px;top:395.50px;font-size:27.00px;">2</span><span class="n bold" style="left:674.10px;top:395.50px;font-size:27.00px;">2</span><span class="n bold" style="left:777.90px;top:395.50px;font-size:27.00px;">50.00%</span><span class="n bold" style="left:897.70px;top:395.50px;font-size:27.00px;">0.00%</span><div class="td" style="left:14.20px;top:420.70px;width:84.40px;height:46.30px;"></div><div class="td" style="left:102.20px;top:420.70px;width:210.20px;height:46.30px;"></div><div class="td" style="left:316.40px;top:420.70px;width:104.50px;height:46.30px;"></div><div class="td" style="left:425.00px;top:420.70px;width:115.40px;height:46.30px;"></div><div class="td" style="left:544.30px;top:420.70px;width:84.10px;height:46.30px;"></div><div class="td" style="left:632.20px;top:420.70px;width:83.80px;height:46.30px;"></div><div class="td" style="left:720.20px;top:420.70px;width:115.40px;height:46.30px;"></div><div class="td" style="left:839.80px;top:420.70px;width:115.80px;height:46.30px;"></div><div class="ln" style="left:11.00px;top:470.50px;width:946.30px;height:2.00px;"></div><span class="n bold" style="left:56.40px;top:445.75px;font-size:27.00px;">8</span><svg class="jp" role="img" aria-label="ギラティナ(アナザー)" style="left:107.75px;top:435.30px;" width="199.10" height="20.50" viewBox="0 -880 9712 1000" fill="#323232"><text x="0" y="0" font-size="1000" font-weight="bold">ギラティナ(アナザー)</text></svg><span class="n bold" style="left:368.65px;top:445.75px;font-size:27.00px;">4</span><span class="n bold" style="left:482.70px;top:445.75px;font-size:27.00px;">4.12%</span><span class="n bold" style="left:586.35px;top:445.75px;font-size:27.00px;">2</span><span class="n bold" style="left:674.10px;top:445.75px;font-size:27.00px;">2</span><span class="n bold" style="left:777.90px;top:445.75px;font-size:27.00px;">50.00%</span><span class="n bold" style="left:897.70px;top:445.75px;font-size:27.00px;">0.00%</span><div class="td" style="left:14.20px;top:472.70px;width:84.40px;height:42.80px;"></div><div class="td" style="left:102.20px;top:472.70px;width:210.20px;height:42.80px;"></div><div class="td" style="left:316.40px;top:472.70px;width:104.50px;height:42.80px;"></div><div class="td" style="left:425.00px;top:472.70px;width:115.40px;height:42.80px;"></div><div class="td" style="left:544.30px;top:472.70px;width:84.10px;height:42.80px;"></div><div class="td" style="left:632.20px;top:472.70px;width:83.80px;height:42.80px;"></div><div class="td" style="left:720.20px;top:472.70px;width:115.40px;height:42.80px;"></div><div class="td" style="left:839.80px;top:472.70px;width:115.80px;height:42.80px;"></div><div class="ln" style="left:11.00px;top:519.00px;width:946.30px;height:2.00px;"></div><span class="n bold" style="left:56.40px;top:496.00px;font-size:27.00px;">9</span><svg class="jp" role="img" aria-label="ニンフィア" style="left:139.80px;top:481.90px;" width="135.00" height="27.00" viewBox="0 -880 5000 1000" fill="#323232"><text x="0" y="0" font-size="1000" font-weight="bold">ニンフィア</text></svg><span class="n bold" style="left:368.65px;top:496.00px;font-size:27.00px;">4</span><span class="n bold" style="left:482.70px;top:496.00px;font-size:27.00px;">4.12%</span><span class="n bold" style="left:586.35px;top:496.00px;font-size:27.00px;">1</span><span class="n bold" style="left:674.10px;top:496.00px;font-size:27.00px;">3</span><span class="n bold" style="left:777.90px;top:496.00px;font-size:27.00px;">25.00%</span><span class="n bold" style="left:897.70px;top:496.00px;font-size:27.00px;">25.00%</span></div>
<svg class="jp" role="img" aria-label="控えモンスター分析:" style="left:12.54px;top:1238.50px;" width="250.51" height="27.00" viewBox="0 -880 9278 1000" fill="#2b3232"><text x="0" y="0" font-size="1000">控えモンスター分析:</text></svg>
<svg class="abs" style="left:282.50px;top:1236.50px" width="32" height="32" viewBox="-16 -16 32 32"><polyline points="-8.7,-4.1 0,4.5 8.7,-4.1" fill="none" stroke="#2b3232" stroke-width="3.9"/></svg>
<svg class="jp" role="img" aria-label="総合モンスター分析:" style="left:12.60px;top:1291.50px;" width="250.51" height="27.00" viewBox="0 -880 9278 1000" fill="#2b3232"><text x="0" y="0" font-size="1000">総合モンスター分析:</text></svg>
<svg class="abs" style="left:282.50px;top:1289.50px" width="32" height="32" viewBox="-16 -16 32 32"><polyline points="-8.7,5.1 0,-3.5 8.7,5.1" fill="none" stroke="#2b3232" stroke-width="3.9"/></svg>
<div class="tbl" style="left:0;top:1328.50px;width:957.30px;height:560.00px"><div class="th" style="left:14.20px;top:0.00px;width:84.40px;height:79.70px;"></div><span class="n bold" style="left:56.40px;top:40.80px;font-size:27.00px;">#</span><div class="th" style="left:102.20px;top:0.00px;width:210.20px;height:79.70px;"></div><svg class="jp" role="img" aria-label="モンスター" style="left:139.80px;top:26.10px;" width="135.00" height="27.00" viewBox="0 -880 5000 1000" fill="#323232"><text x="0" y="0" font-size="1000" font-weight="bold">モンスター</text></svg><div class="th" style="left:316.40px;top:0.00px;width:104.50px;height:79.70px;"></div><svg class="jp" role="img" aria-label="バトル" style="left:328.15px;top:7.50px;" width="81.00" height="27.00" viewBox="0 -880 3000 1000" fill="#323232"><text x="0" y="0" font-size="1000" font-weight="bold">バトル</text></svg><svg class="jp" role="img" aria-label="数" style="left:355.15px;top:45.90px;" width="27.00" height="27.00" viewBox="0 -880 1000 1000" fill="#323232"><text x="0" y="0" font-size="1000" font-weight="bold">数</text></svg><div class="th" style="left:425.00px;top:0.00px;width:115.40px;height:79.70px;"></div><svg class="jp" role="img" aria-label="遭遇率" style="left:442.20px;top:26.10px;" width="81.00" height="27.00" viewBox="0 -880 3000 1000" fill="#323232"><text x="0" y="0" font-size="1000" font-weight="bold">遭遇率</text></svg><div class="th" style="left:544.30px;top:0.00px;width:291.30px;height:32.70px;"></div><svg class="jp" role="img" aria-label="結果" style="left:662.95px;top:2.80px;" width="54.00" height="27.00" viewBox="0 -880 2000 1000" fill="#323232"><text x="0" y="0" font-size="1000" font-weight="bold">結果</text></svg><div class="th" style="left:544.30px;top:36.70px;width:84.10px;height:43.00px;"></div><svg class="jp" role="img" aria-label="勝" style="left:572.85px;top:44.70px;" width="27.00" height="27.00" viewBox="0 -880 1000 1000" fill="#323232"><text x="0" y="0" font-size="1000" font-weight="bold">勝</text></svg><div class="th" style="left:632.20px;top:36.70px;width:83.80px;height:43.00px;"></div><svg class="jp" role="img" aria-label="負" style="left:660.60px;top:44.70px;" width="27.00" height="27.00" viewBox="0 -880 1000 1000" fill="#323232"><text x="0" y="0" font-size="1000" font-weight="bold">負</text></svg><div class="th" style="left:720.20px;top:36.70px;width:115.40px;height:43.00px;"></div><svg class="jp" role="img" aria-label="勝率" style="left:750.90px;top:44.70px;" width="54.00" height="27.00" viewBox="0 -880 2000 1000" fill="#323232"><text x="0" y="0" font-size="1000" font-weight="bold">勝率</text></svg><div class="td" style="left:14.20px;top:79.70px;width:84.40px;height:44.30px;"></div><div class="td" style="left:102.20px;top:79.70px;width:210.20px;height:44.30px;"></div><div class="td" style="left:316.40px;top:79.70px;width:104.50px;height:44.30px;"></div><div class="td" style="left:425.00px;top:79.70px;width:115.40px;height:44.30px;"></div><div class="td" style="left:544.30px;top:79.70px;width:84.10px;height:44.30px;"></div><div class="td" style="left:632.20px;top:79.70px;width:83.80px;height:44.30px;"></div><div class="td" style="left:720.20px;top:79.70px;width:115.40px;height:44.30px;"></div><div class="ln" style="left:11.00px;top:127.50px;width:834.60px;height:2.00px;"></div><span class="n bold" style="left:56.40px;top:103.75px;font-size:27.00px;">1</span><svg class="jp" role="img" aria-label="ファイアロー" style="left:126.30px;top:89.65px;" width="162.00" height="27.00" viewBox="0 -880 6000 1000" fill="#323232"><text x="0" y="0" font-size="1000" font-weight="bold">ファイアロー</text></svg><span class="n bold" style="left:368.65px;top:103.75px;font-size:27.00px;">29</span><span class="n bold" style="left:482.70px;top:103.75px;font-size:27.00px;">29.90%</span><span class="n bold" style="left:586.35px;top:103.75px;font-size:27.00px;">16</span><span class="n bold" style="left:674.10px;top:103.75px;font-size:27.00px;">13</span><span class="n bold" style="left:777.90px;top:103.75px;font-size:27.00px;">55.17%</span><div class="td" style="left:14.20px;top:129.70px;width:84.40px;height:42.80px;"></div><div class="td" style="left:102.20px;top:129.70px;width:210.20px;height:42.80px;"></div><div class="td" style="left:316.40px;top:129.70px;width:104.50px;height:42.80px;"></div><div class="td" style="left:425.00px;top:129.70px;width:115.40px;height:42.80px;"></div><div class="td" style="left:544.30px;top:129.70px;width:84.10px;height:42.80px;"></div><div class="td" style="left:632.20px;top:129.70px;width:83.80px;height:42.80px;"></div><div class="td" style="left:720.20px;top:129.70px;width:115.40px;height:42.80px;"></div><div class="ln" style="left:11.00px;top:176.00px;width:834.60px;height:2.00px;"></div><span class="n bold" style="left:56.40px;top:153.00px;font-size:27.00px;">2</span><svg class="jp" role="img" aria-label="ズルズキン" style="left:139.80px;top:138.90px;" width="135.00" height="27.00" viewBox="0 -880 5000 1000" fill="#323232"><text x="0" y="0" font-size="1000" font-weight="bold">ズルズキン</text></svg><span class="n bold" style="left:368.65px;top:153.00px;font-size:27.00px;">25</span><span class="n bold" style="left:482.70px;top:153.00px;font-size:27.00px;">25.77%</span><span class="n bold" style="left:586.35px;top:153.00px;font-size:27.00px;">18</span><span class="n bold" style="left:674.10px;top:153.00px;font-size:27.00px;">7</span><span class="n bold" style="left:777.90px;top:153.00px;font-size:27.00px;">72.00%</span><div class="td" style="left:14.20px;top:178.20px;width:84.40px;height:42.80px;"></div><div class="td" style="left:102.20px;top:178.20px;width:210.20px;height:42.80px;"></div><div class="td" style="left:316.40px;top:178.20px;width:104.50px;height:42.80px;"></div><div class="td" style="left:425.00px;top:178.20px;width:115.40px;height:42.80px;"></div><div class="td" style="left:544.30px;top:178.20px;width:84.10px;height:42.80px;"></div><div class="td" style="left:632.20px;top:178.20px;width:83.80px;height:42.80px;"></div><div class="td" style="left:720.20px;top:178.20px;width:115.40px;height:42.80px;"></div><div class="ln" style="left:11.00px;top:224.50px;width:834.60px;height:2.00px;"></div><span class="n bold" style="left:56.40px;top:201.50px;font-size:27.00px;">3</span><svg class="jp" role="img" aria-label="トドゼルガ" style="left:139.80px;top:187.40px;" width="135.00" height="27.00" viewBox="0 -880 5000 1000" fill="#323232"><text x="0" y="0" font-size="1000" font-weight="bold">トドゼルガ</text></svg><span class="n bold" style="left:368.65px;top:201.50px;font-size:27.00px;">24</span><span class="n bold" style="left:482.70px;top:201.50px;font-size:27.00px;">24.74%</span><span class="n bold" style="left:586.35px;top:201.50px;font-size:27.00px;">18</span><span class="n bold" style="left:674.10px;top:201.50px;font-size:27.00px;">6</span><span class="n bold" style="left:777.90px;top:201.50px;font-size:27.00px;">75.00%</span><div class="td" style="left:14.20px;top:226.70px;width:84.40px;height:42.80px;"></div><div class="td" style="left:102.20px;top:226.70px;width:210.20px;height:42.80px;"></div><div class="td" style="left:316.40px;top:226.70px;width:104.50px;height:42.80px;"></div><div class="td" style="left:425.00px;top:226.70px;width:115.40px;height:42.80px;"></div><div class="td" style="left:544.30px;top:226.70px;width:84.10px;height:42.80px;"></div><div class="td" style="left:632.20px;top:226.70px;width:83.80px;height:42.80px;"></div><div class="td" style="left:720.20px;top:226.70px;width:115.40px;height:42.80px;"></div><div class="ln" style="left:11.00px;top:273.00px;width:834.60px;height:2.00px;"></div><span class="n bold" style="left:56.40px;top:250.00px;font-size:27.00px;">4</span><svg class="jp" role="img" aria-label="クレセリア" style="left:139.80px;top:235.90px;" width="135.00" height="27.00" viewBox="0 -880 5000 1000" fill="#323232"><text x="0" y="0" font-size="1000" font-weight="bold">クレセリア</text></svg><span class="n bold" style="left:368.65px;top:250.00px;font-size:27.00px;">16</span><span class="n bold" style="left:482.70px;top:250.00px;font-size:27.00px;">16.49%</span><span class="n bold" style="left:586.35px;top:250.00px;font-size:27.00px;">10</span><span class="n bold" style="left:674.10px;top:250.00px;font-size:27.00px;">6</span><span class="n bold" style="left:777.90px;top:250.00px;font-size:27.00px;">62.50%</span><div class="td" style="left:14.20px;top:275.20px;width:84.40px;height:46.30px;"></div><div class="td" style="left:102.20px;top:275.20px;width:210.20px;height:46.30px;"></div><div class="td" style="left:316.40px;top:275.20px;width:104.50px;height:46.30px;"></div><div class="td" style="left:425.00px;top:275.20px;width:115.40px;height:46.30px;"></div><div class="td" style="left:544.30px;top:275.20px;width:84.10px;height:46.30px;"></div><div class="td" style="left:632.20px;top:275.20px;width:83.80px;height:46.30px;"></div><div class="td" style="left:720.20px;top:275.20px;width:115.40px;height:46.30px;"></div><div class="ln" style="left:11.00px;top:325.00px;width:834.60px;height:2.00px;"></div><span class="n bold" style="left:56.40px;top:300.25px;font-size:27.00px;">5</span><svg class="jp" role="img" aria-label="ギラティナ(アナザー)" style="left:107.75px;top:289.80px;" width="199.10" height="20.50" viewBox="0 -880 9712 1000" fill="#323232"><text x="0" y="0" font-size="1000" font-weight="bold">ギラティナ(アナザー)</text></svg><span class="n bold" style="left:368.65px;top:300.25px;font-size:27.00px;">15</span><span class="n bold" style="left:482.70px;top:300.25px;font-size:27.00px;">15.46%</span><span class="n bold" style="left:586.35px;top:300.25px;font-size:27.00px;">8</span><span class="n bold" style="left:674.10px;top:300.25px;font-size:27.00px;">7</span><span class="n bold" style="left:777.90px;top:300.25px;font-size:27.00px;">53.33%</span><div class="td" style="left:14.20px;top:327.20px;width:84.40px;height:42.80px;"></div><div class="td" style="left:102.20px;top:327.20px;width:210.20px;height:42.80px;"></div><div class="td" style="left:316.40px;top:327.20px;width:104.50px;height:42.80px;"></div><div class="td" style="left:425.00px;top:327.20px;width:115.40px;height:42.80px;"></div><div class="td" style="left:544.30px;top:327.20px;width:84.10px;height:42.80px;"></div><div class="td" style="left:632.20px;top:327.20px;width:83.80px;height:42.80px;"></div><div class="td" style="left:720.20px;top:327.20px;width:115.40px;height:42.80px;"></div><div class="ln" style="left:11.00px;top:373.50px;width:834.60px;height:2.00px;"></div><span class="n bold" style="left:56.40px;top:350.50px;font-size:27.00px;">6</span><svg class="jp" role="img" aria-label="ラグラージ" style="left:139.80px;top:336.40px;" width="135.00" height="27.00" viewBox="0 -880 5000 1000" fill="#323232"><text x="0" y="0" font-size="1000" font-weight="bold">ラグラージ</text></svg><span class="n bold" style="left:368.65px;top:350.50px;font-size:27.00px;">14</span><span class="n bold" style="left:482.70px;top:350.50px;font-size:27.00px;">14.43%</span><span class="n bold" style="left:586.35px;top:350.50px;font-size:27.00px;">9</span><span class="n bold" style="left:674.10px;top:350.50px;font-size:27.00px;">5</span><span class="n bold" style="left:777.90px;top:350.50px;font-size:27.00px;">64.29%</span><div class="td" style="left:14.20px;top:375.70px;width:84.40px;height:42.80px;"></div><div class="td" style="left:102.20px;top:375.70px;width:210.20px;height:42.80px;"></div><div class="td" style="left:316.40px;top:375.70px;width:104.50px;height:42.80px;"></div><div class="td" style="left:425.00px;top:375.70px;width:115.40px;height:42.80px;"></div><div class="td" style="left:544.30px;top:375.70px;width:84.10px;height:42.80px;"></div><div class="td" style="left:632.20px;top:375.70px;width:83.80px;height:42.80px;"></div><div class="td" style="left:720.20px;top:375.70px;width:115.40px;height:42.80px;"></div><div class="ln" style="left:11.00px;top:422.00px;width:834.60px;height:2.00px;"></div><span class="n bold" style="left:56.40px;top:399.00px;font-size:27.00px;">7</span><svg class="jp" role="img" aria-label="オーロット" style="left:139.80px;top:384.90px;" width="135.00" height="27.00" viewBox="0 -880 5000 1000" fill="#323232"><text x="0" y="0" font-size="1000" font-weight="bold">オーロット</text></svg><span class="n bold" style="left:368.65px;top:399.00px;font-size:27.00px;">11</span><span class="n bold" style="left:482.70px;top:399.00px;font-size:27.00px;">11.34%</span><span class="n bold" style="left:586.35px;top:399.00px;font-size:27.00px;">7</span><span class="n bold" style="left:674.10px;top:399.00px;font-size:27.00px;">4</span><span class="n bold" style="left:777.90px;top:399.00px;font-size:27.00px;">63.64%</span><div class="td" style="left:14.20px;top:424.20px;width:84.40px;height:42.80px;"></div><div class="td" style="left:102.20px;top:424.20px;width:210.20px;height:42.80px;"></div><div class="td" style="left:316.40px;top:424.20px;width:104.50px;height:42.80px;"></div><div class="td" style="left:425.00px;top:424.20px;width:115.40px;height:42.80px;"></div><div class="td" style="left:544.30px;top:424.20px;width:84.10px;height:42.80px;"></div><div class="td" style="left:632.20px;top:424.20px;width:83.80px;height:42.80px;"></div><div class="td" style="left:720.20px;top:424.20px;width:115.40px;height:42.80px;"></div><div class="ln" style="left:11.00px;top:470.50px;width:834.60px;height:2.00px;"></div><span class="n bold" style="left:56.40px;top:447.50px;font-size:27.00px;">8</span><svg class="jp" role="img" aria-label="ニドクイン" style="left:139.80px;top:433.40px;" width="135.00" height="27.00" viewBox="0 -880 5000 1000" fill="#323232"><text x="0" y="0" font-size="1000" font-weight="bold">ニドクイン</text></svg><span class="n bold" style="left:368.65px;top:447.50px;font-size:27.00px;">10</span><span class="n bold" style="left:482.70px;top:447.50px;font-size:27.00px;">10.31%</span><span class="n bold" style="left:586.35px;top:447.50px;font-size:27.00px;">7</span><span class="n bold" style="left:674.10px;top:447.50px;font-size:27.00px;">3</span><span class="n bold" style="left:777.90px;top:447.50px;font-size:27.00px;">70.00%</span><div class="td" style="left:14.20px;top:472.70px;width:84.40px;height:42.80px;"></div><div class="td" style="left:102.20px;top:472.70px;width:210.20px;height:42.80px;"></div><div class="td" style="left:316.40px;top:472.70px;width:104.50px;height:42.80px;"></div><div class="td" style="left:425.00px;top:472.70px;width:115.40px;height:42.80px;"></div><div class="td" style="left:544.30px;top:472.70px;width:84.10px;height:42.80px;"></div><div class="td" style="left:632.20px;top:472.70px;width:83.80px;height:42.80px;"></div><div class="td" style="left:720.20px;top:472.70px;width:115.40px;height:42.80px;"></div><div class="ln" style="left:11.00px;top:519.00px;width:834.60px;height:2.00px;"></div><span class="n bold" style="left:56.40px;top:496.00px;font-size:27.00px;">9</span><svg class="jp" role="img" aria-label="タチフサグマ" style="left:126.30px;top:481.90px;" width="162.00" height="27.00" viewBox="0 -880 6000 1000" fill="#323232"><text x="0" y="0" font-size="1000" font-weight="bold">タチフサグマ</text></svg><span class="n bold" style="left:368.65px;top:496.00px;font-size:27.00px;">8</span><span class="n bold" style="left:482.70px;top:496.00px;font-size:27.00px;">8.25%</span><span class="n bold" style="left:586.35px;top:496.00px;font-size:27.00px;">3</span><span class="n bold" style="left:674.10px;top:496.00px;font-size:27.00px;">5</span><span class="n bold" style="left:777.90px;top:496.00px;font-size:27.00px;">37.50%</span></div>
<div class="nav"></div>
<svg class="abs" style="left:200px;top:1970px" width="600" height="56" viewBox="200 1970 600 56" fill="#9e9e9e"><path d="M246.6 1983.4v29.4q0 2.6-2.3 1.3l-26.6-14.6q-1.8-1.3 0-2.7l26.6-14.6q2.3-1.3 2.3 1.2z"/><circle cx="484.3" cy="1997.6" r="14.6"/><circle cx="484.3" cy="1997.6" r="18.2" fill="none" stroke="#9e9e9e" stroke-width="1.9"/><rect x="720.2" y="1982.6" width="31.6" height="31" rx="3.2"/></svg>
</body></html>
